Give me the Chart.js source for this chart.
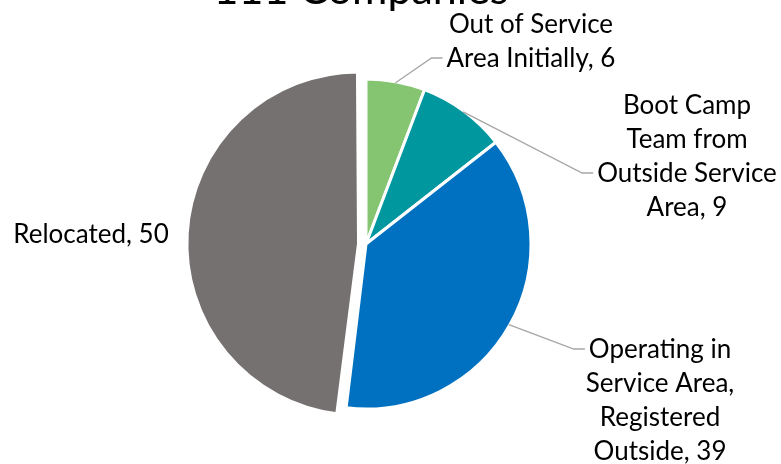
<!DOCTYPE html>
<html>
<head>
<meta charset="utf-8">
<script src="https://cdn.jsdelivr.net/npm/chart.js@4.4.1/dist/chart.umd.min.js"></script>
<style>
  html, body { margin: 0; padding: 0; background: #fff; }
  #wrap { width: 781px; height: 464px; position: relative; overflow: hidden; }
</style>
</head>
<body>
<div id="wrap"><canvas id="pie"></canvas></div>
<script>
const chartTitle = '111 Companies';
const categories = [
    'Out of Service Area Initially',
    'Boot Camp Team from Outside Service Area',
    'Operating in Service Area, Registered Outside',
    'Relocated'
];
const counts = [6, 9, 39, 50];
// how each data label is broken into lines (value is appended to the last line)
const labelLines = [
    ['Out of Service', 'Area Initially,'],
    ['Boot Camp', 'Team from', 'Outside Service', 'Area,'],
    ['Operating in', 'Service Area,', 'Registered', 'Outside,'],
    ['Relocated,']
];
const sliceColors = ['#85c471', '#00979f', '#0070c0', '#767171'];
// chart.js moves an arc by roughly offset/2 for a half-pie slice
const sliceOffsets = [0, 0, 0, 30];

document.addEventListener('DOMContentLoaded', () => {
    const FONT = "'Lato', 'Open Sans', sans-serif";
    const LABEL_SIZE = 26;
    const LINE_H = 34;

    // label placement: centre x, first baseline, which line the leader points to (-1 = none)
    const labelLayout = [
        { cx: 531, y: 33, leadLine: 1 },
        { cx: 687, y: 114, leadLine: 2 },
        { cx: 660, y: 358, leadLine: 0 },
        { cx: 91, y: 243, leadLine: -1 }
    ];

    const labelPlugin = {
        id: 'outsideLabels',
        afterDraw(chart) {
            const ctx = chart.ctx;
            const meta = chart.getDatasetMeta(0);
            ctx.save();

            // title, mostly cut off by the top edge
            ctx.fillStyle = '#000';
            ctx.font = `43px ${FONT}`;
            ctx.textAlign = 'center';
            ctx.textBaseline = 'alphabetic';
            ctx.fillText(chartTitle, 361, 4);

            ctx.font = `${LABEL_SIZE}px ${FONT}`;
            meta.data.forEach((arc, i) => {
                const lay = labelLayout[i];
                const lines = labelLines[i].slice();
                lines[lines.length - 1] += ' ' + counts[i];

                ctx.fillStyle = '#000';
                ctx.textAlign = 'center';
                lines.forEach((ln, k) => ctx.fillText(ln, lay.cx, lay.y + k * LINE_H));

                if (lay.leadLine < 0) return;
                const p = arc.getProps(['x', 'y', 'startAngle', 'endAngle', 'outerRadius'], true);
                const mid = (p.startAngle + p.endAngle) / 2;
                const sx = p.x + Math.cos(mid) * (p.outerRadius - 1);
                const sy = p.y + Math.sin(mid) * (p.outerRadius - 1);
                const w = ctx.measureText(lines[lay.leadLine]).width;
                const ex = lay.cx - w / 2 - 4;
                const ey = lay.y + lay.leadLine * LINE_H - 9;

                ctx.strokeStyle = '#a6a6a6';
                ctx.lineWidth = 1.3;
                ctx.beginPath();
                ctx.moveTo(sx, sy);
                ctx.lineTo(ex - 11, ey);
                ctx.lineTo(ex, ey);
                ctx.stroke();
            });
            ctx.restore();
        }
    };

    new Chart(document.getElementById('pie'), {
        type: 'pie',
        data: {
            labels: categories,
            datasets: [{
                data: counts,
                backgroundColor: sliceColors,
                borderColor: '#ffffff',
                borderWidth: 3,
                offset: sliceOffsets
            }]
        },
        options: {
            responsive: true,
            maintainAspectRatio: false,
            animation: false,
            layout: { padding: { top: 62.5, left: 184.5, right: 233.5, bottom: 38.5 } },
            plugins: {
                legend: { display: false },
                title: { display: false },
                tooltip: { enabled: false }
            }
        },
        plugins: [labelPlugin]
    });
});
</script>
</body>
</html>
